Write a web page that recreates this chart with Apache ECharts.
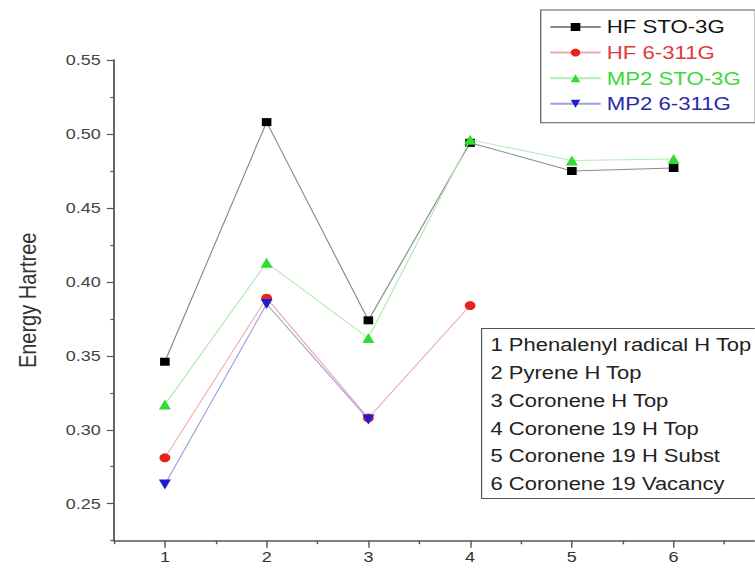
<!DOCTYPE html>
<html>
<head>
<meta charset="utf-8">
<script src="https://cdn.jsdelivr.net/npm/echarts@6/dist/echarts.min.js"></script>
<style>
  html, body { margin: 0; padding: 0; background: #fff; overflow: hidden; }
  #wrap { position: absolute; left: 0; top: 0; width: 629.17px; height: 571px; transform: scaleX(1.2); transform-origin: 0 0; }
</style>
</head>
<body>
<div id="wrap"></div>
<script>
// ---- data ----
const xValues = [1, 2, 3, 4, 5, 6];
const seriesNames = ['HF STO-3G', 'HF 6-311G', 'MP2 STO-3G', 'MP2 6-311G'];
const hfSto3g  = [0.346, 0.508, 0.374, 0.494, 0.475, 0.477];
const hf6311g  = [0.281, 0.389, 0.308, 0.384, null, null];
const mp2Sto3g = [0.317, 0.413, 0.362, 0.496, 0.482, 0.483];
const mp26311g = [0.263, 0.385, 0.307, null, null, null];
const yMajorTicks = [0.25, 0.30, 0.35, 0.40, 0.45, 0.50, 0.55];
const yMinorTicks = [0.225, 0.275, 0.325, 0.375, 0.425, 0.475, 0.525];
const xMajorTicks = [1, 2, 3, 4, 5, 6];
const xMinorTicks = [0.5, 1.5, 2.5, 3.5, 4.5, 5.5, 6.5];
const noteLines = [
  '1 Phenalenyl radical H Top',
  '2 Pyrene H Top',
  '3 Coronene H Top',
  '4 Coronene 19 H Top',
  '5 Coronene 19 H Subst',
  '6 Coronene 19 Vacancy'
];
const yName = 'Energy Hartree';

// ---- chart ----
const FONT = 'Liberation Sans, Arial, sans-serif';
const el = document.getElementById('wrap');
const chart = echarts.init(el, null, { renderer: 'svg', width: 629.17, height: 571 });

function pairs(vals) {
  return xValues.map((x, i) => vals[i] == null ? null : [x, vals[i]]).filter(p => p);
}

const styles = [
  { symbol: 'rect', size: 8, color: '#000000', line: '#8a8a8a', text: '#111111', rot: 0 },
  { symbol: 'circle', size: 9, color: '#e8231c', line: '#f0a8a8', text: '#e03a3a', rot: 0 },
  { symbol: 'triangle', size: 10, color: '#2fdc2f', line: '#b0ecb0', text: '#3ada3a', rot: 0 },
  { symbol: 'triangle', size: 10, color: '#1c1cd0', line: '#a0a0d8', text: '#2a2aa8', rot: 180 }
];
const allData = [hfSto3g, hf6311g, mp2Sto3g, mp26311g];

const axisLineStyle = { color: '#555', width: 1.5 };

const option = {
  animation: false,
  backgroundColor: '#fff',
  textStyle: { fontFamily: FONT },
  grid: { left: 95, right: 0, top: 60, bottom: 30.3, containLabel: false },
  title: {
    text: noteLines.join('\n'),
    left: 400.8, top: 328,
    padding: [3, 10, 1, 8],
    borderColor: '#555', borderWidth: 1,
    backgroundColor: '#fff',
    textStyle: { fontFamily: FONT, fontSize: 18.3, fontWeight: 'normal', color: '#222', lineHeight: 27.8 }
  },
  legend: {
    orient: 'vertical',
    left: 450.6, top: 10,
    padding: [7, 12, 9, 7],
    itemWidth: 42, itemHeight: 10, itemGap: 5.6,
    borderColor: '#555', borderWidth: 1,
    backgroundColor: '#fff',
    textStyle: { fontFamily: FONT, fontSize: 18.5, lineHeight: 20 },
    data: seriesNames.map((n, i) => ({ name: n, textStyle: { color: styles[i].text } }))
  },
  xAxis: [
    {
      type: 'value', min: 0.5, max: 6.8,
      axisLine: { show: true, onZero: false, lineStyle: axisLineStyle },
      axisTick: { show: true, inside: false, length: 7, lineStyle: { color: '#555', width: 1.2 }, customValues: xMajorTicks },
      axisLabel: { show: true, margin: 9, fontSize: 15, color: '#333', fontFamily: FONT, customValues: xMajorTicks, formatter: v => String(v) },
      splitLine: { show: false }
    },
    {
      type: 'value', min: 0.5, max: 6.8, position: 'bottom',
      axisLine: { show: false },
      axisTick: { show: true, inside: false, length: 3.5, lineStyle: { color: '#555', width: 1.2 }, customValues: xMinorTicks },
      axisLabel: { show: false },
      splitLine: { show: false }
    }
  ],
  yAxis: [
    {
      type: 'value', min: 0.225, max: 0.55,
      name: yName, nameLocation: 'middle', nameGap: 62, nameRotate: 90,
      nameTextStyle: { fontFamily: FONT, fontSize: 20, color: '#333' },
      axisLine: { show: true, onZero: false, lineStyle: axisLineStyle },
      axisTick: { show: true, inside: false, length: 6, lineStyle: { color: '#555', width: 1.2 }, customValues: yMajorTicks },
      axisLabel: { show: true, margin: 11, fontSize: 15, color: '#444', fontFamily: FONT, customValues: yMajorTicks, formatter: v => v.toFixed(2) },
      splitLine: { show: false }
    },
    {
      type: 'value', min: 0.225, max: 0.55, position: 'left',
      axisLine: { show: false },
      axisTick: { show: true, inside: false, length: 3, lineStyle: { color: '#555', width: 1.2 }, customValues: yMinorTicks },
      axisLabel: { show: false },
      splitLine: { show: false }
    }
  ],
  series: seriesNames.map((n, i) => ({
    name: n,
    type: 'line',
    xAxisIndex: 0, yAxisIndex: 0,
    data: pairs(allData[i]),
    symbol: styles[i].symbol,
    symbolSize: styles[i].size,
    symbolRotate: styles[i].rot,
    showAllSymbol: true,
    itemStyle: { color: styles[i].color },
    lineStyle: { color: styles[i].line, width: 1 },
    z: 2 + i
  }))
};
chart.setOption(option);
</script>
</body>
</html>
